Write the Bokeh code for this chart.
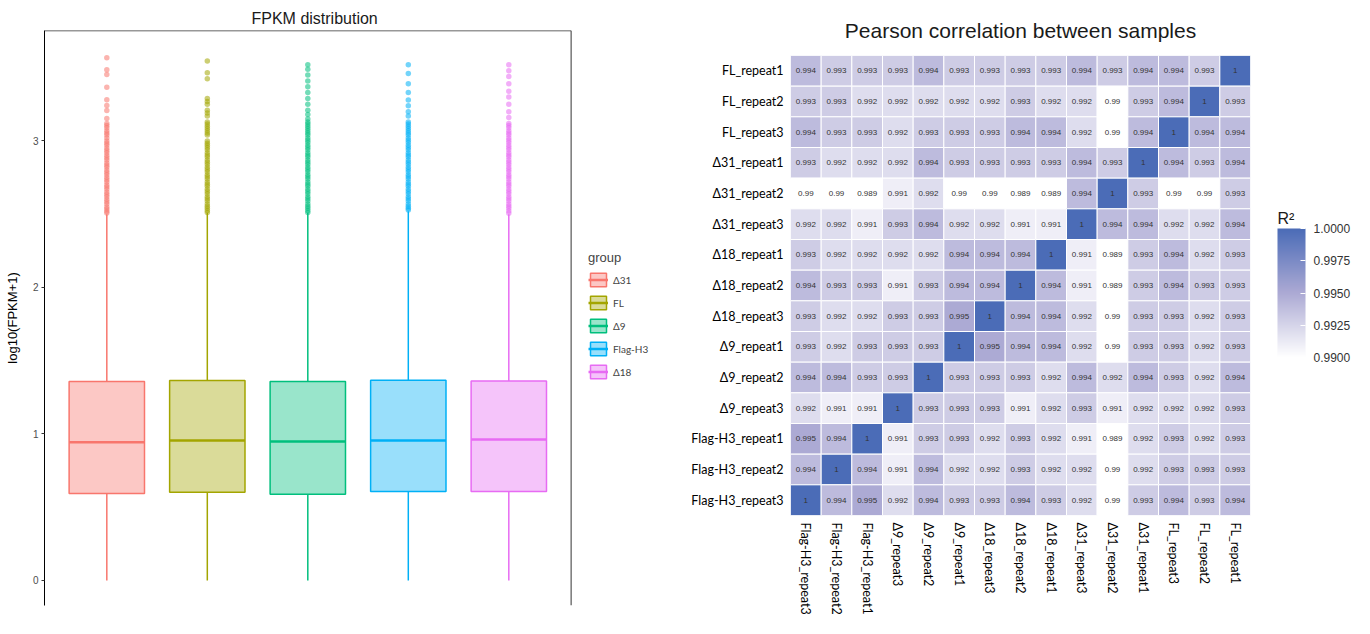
from bokeh.plotting import figure
from bokeh.layouts import row, column
from bokeh.models import (ColumnDataSource, LinearColorMapper, ColorBar, FixedTicker,
                          Legend, LegendItem, Span, Range1d, FactorRange, NumeralTickFormatter)
from bokeh.embed import file_html
from bokeh.resources import INLINE

# ---------------- data: FPKM distribution ----------------
groups = ["Δ31", "FL", "Δ9", "Flag-H3", "Δ18"]
group_colors = ["#F8766D", "#A3A500", "#00BF7D", "#00B0F6", "#E76BF3"]
q1 = [0.594, 0.602, 0.588, 0.607, 0.607]
median = [0.943, 0.956, 0.949, 0.956, 0.962]
q3 = [1.358, 1.365, 1.358, 1.366, 1.361]
whisker_low = [0.0, 0.0, 0.0, 0.0, 0.0]
whisker_high = [2.50, 2.51, 2.51, 2.52, 2.50]

out_d31 = [3.568, 3.486, 3.454, 3.367, 3.281, 3.242, 3.208, 3.154, 3.12, 3.105, 3.09, 3.07,
           3.055, 3.04, 3.02, 3.0, 2.985, 2.97, 2.95, 2.935, 2.92, 2.90, 2.885, 2.87, 2.85,
           2.835, 2.82, 2.80, 2.785, 2.77, 2.75, 2.735, 2.72, 2.70, 2.685, 2.67, 2.65, 2.635,
           2.62, 2.60, 2.585, 2.57, 2.55, 2.535, 2.52, 2.508]
out_fl = [3.545, 3.465, 3.424, 3.29, 3.27, 3.25, 3.21, 3.19, 3.17, 3.13, 3.115, 3.10, 3.085,
          3.07, 3.055, 3.04, 3.0, 2.985, 2.97, 2.955, 2.94, 2.92, 2.905, 2.89, 2.87, 2.855,
          2.84, 2.82, 2.805, 2.79, 2.77, 2.755, 2.74, 2.72, 2.705, 2.69, 2.67, 2.655, 2.64,
          2.62, 2.605, 2.59, 2.57, 2.555, 2.54, 2.525, 2.512]
out_d9 = [3.52, 3.49, 3.45, 3.41, 3.37, 3.33, 3.29, 3.25, 3.21, 3.18, 3.15, 3.13, 3.115, 3.10,
          3.085, 3.07, 3.055, 3.04, 3.02, 3.005, 2.99, 2.97, 2.955, 2.94, 2.92, 2.905, 2.89,
          2.87, 2.855, 2.84, 2.82, 2.805, 2.79, 2.77, 2.755, 2.74, 2.72, 2.705, 2.69, 2.67,
          2.655, 2.64, 2.62, 2.605, 2.59, 2.57, 2.555, 2.54, 2.525, 2.512]
out_fh3 = [3.52, 3.46, 3.39, 3.33, 3.28, 3.24, 3.20, 3.17, 3.13, 3.115, 3.10, 3.085, 3.07,
           3.055, 3.04, 3.02, 3.005, 2.99, 2.97, 2.955, 2.94, 2.92, 2.905, 2.89, 2.87, 2.855,
           2.84, 2.82, 2.805, 2.79, 2.77, 2.755, 2.74, 2.72, 2.705, 2.69, 2.67, 2.655, 2.64,
           2.62, 2.605, 2.59, 2.57, 2.555, 2.54, 2.528]
out_d18 = [3.52, 3.48, 3.44, 3.39, 3.34, 3.30, 3.25, 3.20, 3.16, 3.12, 3.105, 3.09, 3.07,
           3.055, 3.04, 3.02, 3.005, 2.99, 2.97, 2.955, 2.94, 2.92, 2.905, 2.89, 2.87, 2.855,
           2.84, 2.82, 2.805, 2.79, 2.77, 2.755, 2.74, 2.72, 2.705, 2.69, 2.67, 2.655, 2.64,
           2.62, 2.605, 2.59, 2.57, 2.555, 2.54, 2.522, 2.506]
outliers = [out_d31, out_fl, out_d9, out_fh3, out_d18]

# ---------------- data: Pearson correlation ----------------
row_samples = ["FL_repeat1", "FL_repeat2", "FL_repeat3",
               "Δ31_repeat1", "Δ31_repeat2", "Δ31_repeat3",
               "Δ18_repeat1", "Δ18_repeat2", "Δ18_repeat3",
               "Δ9_repeat1", "Δ9_repeat2", "Δ9_repeat3",
               "Flag-H3_repeat1", "Flag-H3_repeat2", "Flag-H3_repeat3"]
col_samples = ["Flag-H3_repeat3", "Flag-H3_repeat2", "Flag-H3_repeat1",
               "Δ9_repeat3", "Δ9_repeat2", "Δ9_repeat1",
               "Δ18_repeat3", "Δ18_repeat2", "Δ18_repeat1",
               "Δ31_repeat3", "Δ31_repeat2", "Δ31_repeat1",
               "FL_repeat3", "FL_repeat2", "FL_repeat1"]
r_values = [
    [0.994, 0.993, 0.993, 0.993, 0.994, 0.993, 0.993, 0.993, 0.993, 0.994, 0.993, 0.994, 0.994, 0.993, 1],
    [0.993, 0.993, 0.992, 0.992, 0.992, 0.992, 0.992, 0.993, 0.992, 0.992, 0.99, 0.993, 0.994, 1, 0.993],
    [0.994, 0.993, 0.993, 0.992, 0.993, 0.993, 0.993, 0.994, 0.994, 0.992, 0.99, 0.994, 1, 0.994, 0.994],
    [0.993, 0.992, 0.992, 0.992, 0.994, 0.993, 0.993, 0.993, 0.993, 0.994, 0.993, 1, 0.994, 0.993, 0.994],
    [0.99, 0.99, 0.989, 0.991, 0.992, 0.99, 0.99, 0.989, 0.989, 0.994, 1, 0.993, 0.99, 0.99, 0.993],
    [0.992, 0.992, 0.991, 0.993, 0.994, 0.992, 0.992, 0.991, 0.991, 1, 0.994, 0.994, 0.992, 0.992, 0.994],
    [0.993, 0.992, 0.992, 0.992, 0.992, 0.994, 0.994, 0.994, 1, 0.991, 0.989, 0.993, 0.994, 0.992, 0.993],
    [0.994, 0.993, 0.993, 0.991, 0.993, 0.994, 0.994, 1, 0.994, 0.991, 0.989, 0.993, 0.994, 0.993, 0.993],
    [0.993, 0.992, 0.992, 0.993, 0.993, 0.995, 1, 0.994, 0.994, 0.992, 0.99, 0.993, 0.993, 0.992, 0.993],
    [0.993, 0.992, 0.993, 0.993, 0.993, 1, 0.995, 0.994, 0.994, 0.992, 0.99, 0.993, 0.993, 0.992, 0.993],
    [0.994, 0.994, 0.993, 0.993, 1, 0.993, 0.993, 0.993, 0.992, 0.994, 0.992, 0.994, 0.993, 0.992, 0.994],
    [0.992, 0.991, 0.991, 1, 0.993, 0.993, 0.993, 0.991, 0.992, 0.993, 0.991, 0.992, 0.992, 0.992, 0.993],
    [0.995, 0.994, 1, 0.991, 0.993, 0.993, 0.992, 0.993, 0.992, 0.991, 0.989, 0.992, 0.993, 0.992, 0.993],
    [0.994, 1, 0.994, 0.991, 0.994, 0.992, 0.992, 0.993, 0.992, 0.992, 0.99, 0.992, 0.993, 0.993, 0.993],
    [1, 0.994, 0.995, 0.992, 0.994, 0.993, 0.993, 0.994, 0.993, 0.992, 0.99, 0.993, 0.994, 0.993, 0.994],
]
cbar_ticks = [0.99, 0.9925, 0.995, 0.9975, 1.0]

# ================= left: box plot =================
pos = [1, 2, 3, 4, 5]
half = 0.375
x_lo, x_panel_end, x_fig_end = 0.38, 5.62, 6.788
y_lo, y_hi = -0.171, 3.754
p1 = figure(width=688, height=626, x_range=Range1d(x_lo, x_fig_end), y_range=Range1d(y_lo, y_hi),
            output_backend="svg", toolbar_location=None,
            min_border_left=44, min_border_right=0, min_border_top=30, min_border_bottom=21)
p1.title.text = "FPKM distribution"
p1.title.align = "left"
p1.title.offset = 207
p1.title.text_font = "Liberation Sans"
p1.title.text_font_size = "16px"
p1.title.text_font_style = "normal"
p1.title.text_color = "#1a1a1a"
p1.title.standoff = 8
p1.xaxis.visible = False
p1.xgrid.visible = False
p1.ygrid.visible = False
p1.outline_line_color = None
p1.yaxis.ticker = FixedTicker(ticks=[0, 1, 2, 3])
p1.yaxis.axis_label = "log10(FPKM+1)"
p1.yaxis.axis_label_text_font = "Liberation Sans"
p1.yaxis.axis_label_text_font_size = "13px"
p1.yaxis.axis_label_text_font_style = "normal"
p1.yaxis.axis_label_text_color = "#000000"
p1.yaxis.axis_label_standoff = 10
p1.yaxis.major_label_text_font = "Liberation Sans"
p1.yaxis.major_label_text_font_size = "10px"
p1.yaxis.major_label_text_color = "#4D4D4D"
p1.yaxis.major_label_standoff = 3
p1.yaxis.major_tick_in = 0
p1.yaxis.major_tick_out = 3
p1.yaxis.major_tick_line_color = "#333333"
p1.yaxis.minor_tick_line_color = None
p1.yaxis.axis_line_color = "#000000"
# panel border (top and right)
p1.segment(x0=[x_lo], y0=[y_hi], x1=[x_panel_end], y1=[y_hi], line_color="#333333", line_width=1.5)
p1.add_layout(Span(location=x_panel_end, dimension="height", line_color="#333333", line_width=1))

box_src = ColumnDataSource(dict(x=pos, g=groups, c=group_colors, q1=q1, med=median, q3=q3,
                                lo=whisker_low, hi=whisker_high,
                                xl=[v - half for v in pos], xr=[v + half for v in pos]))
p1.segment(x0="x", y0="q3", x1="x", y1="hi", source=box_src, line_color="c", line_width=1.5)
p1.segment(x0="x", y0="lo", x1="x", y1="q1", source=box_src, line_color="c", line_width=1.5)
r_box = p1.vbar(x="x", width=2 * half, bottom="q1", top="q3", source=box_src,
                fill_color="c", fill_alpha=0.4, line_color="c", line_width=1.5)
r_med = p1.segment(x0="xl", y0="med", x1="xr", y1="med", source=box_src,
                   line_color="c", line_width=2.5)

ox, oy, oc = [], [], []
for i, vals in enumerate(outliers):
    for v in vals:
        ox.append(pos[i]); oy.append(v); oc.append(group_colors[i])
p1.scatter(x=ox, y=oy, size=5.5, fill_color=oc, line_color=None, fill_alpha=0.55)

legend = Legend(items=[LegendItem(label=g, renderers=[r_box, r_med], index=i)
                       for i, g in enumerate(groups)],
                location=(544, 225), title="group",
                title_text_font="Liberation Sans", title_text_font_size="13px",
                title_text_font_style="normal", title_standoff=6,
                label_text_font="Lato", label_text_font_size="10px",
                glyph_width=20, glyph_height=17, spacing=6, padding=2,
                border_line_color=None, background_fill_alpha=0)
p1.add_layout(legend)

# ================= right: correlation heatmap =================
xs, ys, vs, labels = [], [], [], []
for ri, rname in enumerate(row_samples):
    for ci, cname in enumerate(col_samples):
        v = r_values[ri][ci]
        xs.append(cname); ys.append(rname); vs.append(v); labels.append(f"{v:g}")
hm_src = ColumnDataSource(dict(x=xs, y=ys, v=vs, t=labels))


def hex2rgb(h):
    return tuple(int(h[k:k + 2], 16) for k in (1, 3, 5))


stops = [(0.0, hex2rgb("#FFFFFF")), (0.5, hex2rgb("#ACAAD4")), (1.0, hex2rgb("#4B6CB7"))]
palette = []
for k in range(256):
    t = k / 255
    for (t0, c0), (t1, c1) in zip(stops[:-1], stops[1:]):
        if t0 <= t <= t1:
            f = (t - t0) / (t1 - t0)
            rgb = [round(a + (b - a) * f) for a, b in zip(c0, c1)]
            palette.append("#%02x%02x%02x" % tuple(rgb))
            break
mapper = LinearColorMapper(palette=palette, low=0.99, high=1.0)

p2 = figure(width=574, height=626, x_range=FactorRange(*col_samples),
            y_range=FactorRange(*reversed(row_samples)),
            output_backend="svg", toolbar_location=None,
            min_border_left=102, min_border_right=12, min_border_top=55, min_border_bottom=111)
p2.title.text = "Pearson correlation between samples"
p2.title.align = "center"
p2.title.text_font = "Liberation Sans"
p2.title.text_font_size = "21px"
p2.title.text_font_style = "normal"
p2.title.text_color = "#1a1a1a"
p2.title.standoff = 28
p2.outline_line_color = None
p2.grid.visible = False
p2.rect(x="x", y="y", width=1, height=1, source=hm_src,
        fill_color={"field": "v", "transform": mapper}, line_color="white", line_width=1)
p2.text(x="x", y="y", text="t", source=hm_src, text_align="center", text_baseline="middle",
        text_font_size="8px", text_color="#333333")
for ax in (p2.xaxis, p2.yaxis):
    ax.axis_line_color = None
    ax.major_tick_line_color = None
    ax.minor_tick_line_color = None
    ax.major_tick_in = 0
    ax.major_tick_out = 0
    ax.major_label_text_font = "Lato"
    ax.major_label_text_font_size = "12.5px"
    ax.major_label_text_color = "#000000"
    ax.major_label_standoff = 7
p2.xaxis.major_label_orientation = "vertical"

# ================= colour bar panel =================
p3 = figure(width=96, height=626, x_range=Range1d(0, 1), y_range=Range1d(0, 1),
            output_backend="svg", toolbar_location=None,
            min_border_left=0, min_border_right=0, min_border_top=228, min_border_bottom=269)
p3.axis.visible = False
p3.grid.visible = False
p3.outline_line_color = None
p3.title.text = "R²"
p3.title.align = "left"
p3.title.offset = 15
p3.title.text_font = "Liberation Sans"
p3.title.text_font_size = "16px"
p3.title.text_font_style = "normal"
p3.title.text_color = "#1a1a1a"
p3.title.standoff = 4
cbar = ColorBar(color_mapper=mapper, ticker=FixedTicker(ticks=cbar_ticks),
                formatter=NumeralTickFormatter(format="0.0000"),
                width=28, height=129, location=(15, 0), padding=0,
                major_label_text_font="Liberation Sans", major_label_text_font_size="12px",
                major_label_text_color="#333333", label_standoff=8,
                major_tick_line_color="white", major_tick_in=5, major_tick_out=0,
                bar_line_color=None, background_fill_alpha=0, border_line_color=None)
p3.add_layout(cbar)

layout = row(column(p1), column(p2), column(p3))
open("out.html", "w").write(file_html(layout, INLINE))
